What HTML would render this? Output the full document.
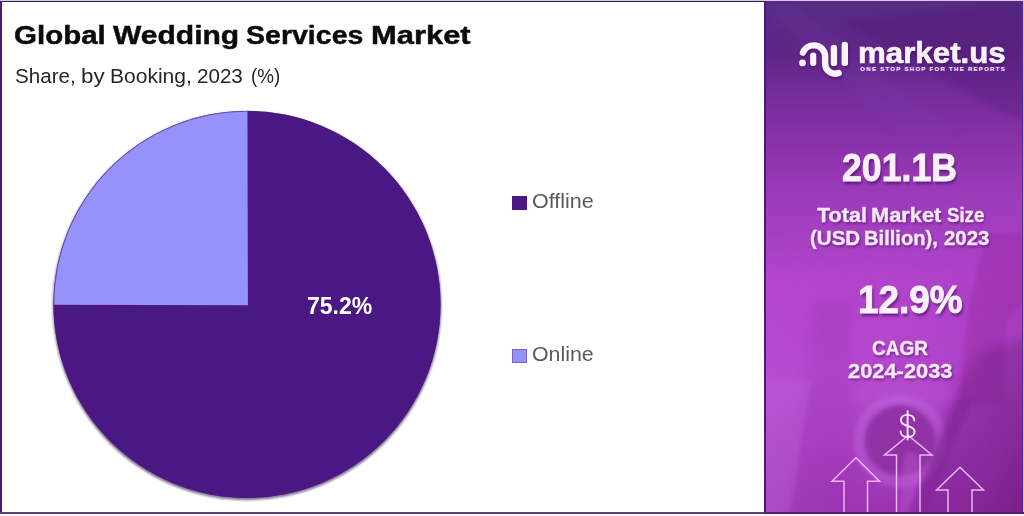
<!DOCTYPE html>
<html>
<head>
<meta charset="utf-8">
<style>
html,body{margin:0;padding:0;}
body{width:1024px;height:516px;position:relative;overflow:hidden;background:#fdf4ff;font-family:"Liberation Sans",sans-serif;}
.abs{position:absolute;}
.t{position:absolute;white-space:nowrap;line-height:1;transform-origin:0 0;}
#left{left:0;top:0;width:764px;height:514px;background:#fff;}
#panel{left:764px;top:0;width:260px;height:514px;overflow:hidden;}
.pt{color:#f8e8fa;-webkit-text-stroke:.35px #f8e8fa;text-shadow:1px 1.5px 2.5px rgba(70,10,100,.6);}
.big{color:#fbf0fc;-webkit-text-stroke:.9px #fbf0fc;text-shadow:1.5px 2.5px 3px rgba(70,10,100,.65);}
.lg{color:#fbf2fd;-webkit-text-stroke:.6px #fbf2fd;text-shadow:1px 1.5px 2px rgba(50,5,80,.5);}
.ttl{-webkit-text-stroke:.45px #0b0b0b;}
</style>
</head>
<body>
<div id="left" class="abs"></div>

<!-- pie -->
<svg class="abs" style="left:0;top:0" width="764" height="516" viewBox="0 0 764 516">
  <defs>
    <filter id="sh" x="-5%" y="-5%" width="110%" height="110%"><feGaussianBlur stdDeviation="1.3"/></filter>
    <clipPath id="pc"><circle cx="247" cy="304.4" r="193.5"/></clipPath>
  </defs>
  <circle cx="247" cy="306" r="194.3" fill="#57426c" opacity=".72" filter="url(#sh)"/>
  <circle cx="247" cy="304.4" r="193.5" fill="#4b1782"/>
  <path d="M247.9 305.2 L247.4 100 L40 100 L40 304.8 Z" fill="#9692fb" clip-path="url(#pc)"/>
  <circle cx="247" cy="304.4" r="193.2" fill="none" stroke="#4b1782" stroke-width=".8" opacity=".7"/>
</svg>

<div class="abs" style="left:512.4px;top:195.5px;width:14.5px;height:14px;background:#4b1782;"></div>
<div class="abs" style="left:512.4px;top:348.5px;width:13px;height:12.4px;background:#9692fb;border:.8px solid #7a60c8;"></div>

<!-- right panel -->
<div id="panel" class="abs">
  <div class="abs" style="left:0;top:0;width:260px;height:514px;background:linear-gradient(180deg,#572b84 0px,#5e2587 55px,#722c98 90px,#8430a4 130px,#9a3ab8 190px,#b144ca 275px,#b548ce 375px,#a83ec0 450px,#9a32b0 514px);"></div>
  <svg class="abs" style="left:0;top:0" width="260" height="514" viewBox="764 0 260 514">
  <defs>
    <filter id="b2"><feGaussianBlur stdDeviation="2"/></filter>
    <filter id="b4"><feGaussianBlur stdDeviation="4"/></filter>
    <filter id="b8"><feGaussianBlur stdDeviation="8"/></filter>
    <linearGradient id="hg" x1="0" x2="1" y1="0" y2="0">
      <stop offset="0" stop-color="#c468e0" stop-opacity=".30"/>
      <stop offset=".45" stop-color="#b044ca" stop-opacity="0"/>
      <stop offset="1" stop-color="#5e1474" stop-opacity=".48"/>
    </linearGradient>
    <linearGradient id="vm" x1="0" x2="0" y1="0" y2="1">
      <stop offset="0" stop-color="#fff" stop-opacity="0"/>
      <stop offset=".45" stop-color="#fff" stop-opacity=".5"/>
      <stop offset="1" stop-color="#fff" stop-opacity="1"/>
    </linearGradient>
    <mask id="mk"><rect x="764" y="230" width="260" height="284" fill="url(#vm)"/></mask>
  </defs>
  <!-- top photo shapes -->
  <polygon points="846,22 1024,0 1024,120 1000,112" fill="#4e1872" opacity=".28" filter="url(#b2)"/>
  <polygon points="764,8 800,8 960,135 900,135" fill="#7a40b0" opacity=".16" filter="url(#b4)"/>
  <!-- horizontal variation bottom -->
  <rect x="764" y="230" width="260" height="284" fill="url(#hg)" mask="url(#mk)"/>
  <polygon points="986,235 1024,232 1024,300 1006,322 1003,404 958,404 970,300" fill="#8a1c90" opacity=".26" filter="url(#b2)"/>
  <polygon points="812,300 852,300 848,514 794,514" fill="#8a2aa0" opacity=".14" filter="url(#b4)"/>
  <!-- saucer / cup -->
  <ellipse cx="903" cy="396" rx="52" ry="16" fill="#c872e0" opacity=".14" filter="url(#b4)"/>
  <circle cx="900" cy="441" r="46.5" fill="#cc78e4" opacity=".30" filter="url(#b2)"/>
  <circle cx="900" cy="440.5" r="35.5" fill="#8a2a9e" opacity=".8" filter="url(#b2)"/>
  <polygon points="764,380 812,380 800,450 790,514 764,514" fill="#c670e2" opacity=".22" filter="url(#b2)"/>
  <path d="M906 452 Q918 450 920 462 L918 514 H900 L902 470 Z" fill="#c460d4" opacity=".35" filter="url(#b2)"/>
  <!-- hand/pen dark diagonal -->
  <polygon points="958,400 972,400 924,514 906,514" fill="#7a2090" opacity=".40" filter="url(#b2)"/>
  <polygon points="978,352 1030,338 1030,520 914,520 950,405" fill="#6a1478" opacity=".30" filter="url(#b4)"/>
  <!-- arrows -->
  <g fill="none" stroke="#f1bcf8" stroke-width="1.5" stroke-linejoin="miter" opacity=".95">
    <path d="M844 514 V481.2 H832 L855.9 457.8 L879.5 481.2 H867.5 V514"/>
    <path d="M896.5 514 V455 H884.5 L908.2 435.5 L932 455 H920 V514"/>
    <path d="M948 514 V490 H936.6 L960 467.2 L983.5 490 H972 V514"/>
  </g>
</svg>

</div>
<svg class="abs" style="left:764px;top:0" width="260" height="514" viewBox="764 0 260 514">
  <defs><filter id="ls" x="-20%" y="-20%" width="140%" height="150%"><feGaussianBlur stdDeviation="1.6"/></filter></defs>
  <g fill="none" stroke="#3c0a5c" stroke-linecap="round" opacity=".55" filter="url(#ls)" transform="translate(.8 2)">
    <path d="M802.9 52.6 C804.6 48.2 809 45.35 814 45.35 A11.15 11.15 0 0 1 825.15 56.5 V63.7 A10 10 0 0 0 838.6 73.1" stroke-width="6.4"/>
    <path d="M813.2 55.7 V63" stroke-width="6.2"/>
    <path d="M833.9 47.9 V62.9" stroke-width="6.4"/>
    <path d="M844.8 44.9 V62.9" stroke-width="6.4"/>
    <circle cx="802.5" cy="62.9" r="3.4" fill="#3c0a5c" stroke="none"/>
  </g>
  <g fill="none" stroke="#fcf3fd" stroke-linecap="round">
    <path d="M802.9 52.6 C804.6 48.2 809 45.35 814 45.35 A11.15 11.15 0 0 1 825.15 56.5 V63.7 A10 10 0 0 0 838.6 73.1" stroke-width="6.4"/>
    <path d="M813.2 55.7 V63" stroke-width="6.2"/>
    <path d="M833.9 47.9 V62.9" stroke-width="6.4"/>
    <path d="M844.8 44.9 V62.9" stroke-width="6.4"/>
    <circle cx="802.5" cy="62.9" r="3.4" fill="#fcf3fd" stroke="none"/>
  </g>
  <!-- dollar -->
  <g fill="none" stroke="#fbeafd" stroke-width="1.9" stroke-linecap="round">
    <path d="M914.3 420.6 C914.3 416.9 911.3 414.9 907.6 414.9 C903.8 414.9 900.9 417 900.9 420.3 C900.9 424 904 425 907.6 426 C911.5 427 914.6 428.4 914.6 431.8 C914.6 435.2 911.5 437 907.6 437 C903.6 437 900.6 435 900.6 431.4"/>
    <path d="M907.6 411.3 V439.6"/>
  </g>
</svg>
<div class="t" style="left:860.3px;top:65.7px;font-size:6px;font-weight:bold;color:#f3e2f7;-webkit-text-stroke:.15px #f3e2f7;letter-spacing:1.3px;" id="tag">ONE STOP SHOP FOR THE REPORTS</div>

<div class="t ttl" style="left:13.52px;top:22.41px;font-size:26.5px;font-weight:bold;color:#0b0b0b;transform:scaleX(1.1132);">Global</div>
<div class="t ttl" style="left:113.40px;top:22.41px;font-size:26.5px;font-weight:bold;color:#0b0b0b;transform:scaleX(1.1325);">Wedding</div>
<div class="t ttl" style="left:246.34px;top:22.41px;font-size:26.5px;font-weight:bold;color:#0b0b0b;transform:scaleX(1.0766);">Services</div>
<div class="t ttl" style="left:371.29px;top:22.41px;font-size:26.5px;font-weight:bold;color:#0b0b0b;transform:scaleX(1.1663);">Market</div>
<div class="t" style="left:15.37px;top:67.09px;font-size:19.3px;color:#262626;transform:scaleX(1.0695);">Share,</div>
<div class="t" style="left:81.04px;top:67.09px;font-size:19.3px;color:#262626;transform:scaleX(1.1625);">by</div>
<div class="t" style="left:109.62px;top:67.09px;font-size:19.3px;color:#262626;transform:scaleX(1.0906);">Booking,</div>
<div class="t" style="left:196.77px;top:67.09px;font-size:19.3px;color:#262626;transform:scaleX(1.0679);">2023</div>
<div class="t" style="left:250.87px;top:67.09px;font-size:19.3px;color:#262626;transform:scaleX(0.9749);">(%)</div>
<div class="t" style="left:306.76px;top:295.20px;font-size:23.2px;font-weight:bold;color:#fff;transform:scaleX(0.9930);">75.2%</div>
<div class="t" style="left:532.13px;top:192.39px;font-size:19.3px;color:#5a5a5a;transform:scaleX(1.1125);">Offline</div>
<div class="t" style="left:532.14px;top:345.39px;font-size:19.3px;color:#5a5a5a;transform:scaleX(1.1066);">Online</div>
<div class="t pt big" style="left:841.75px;top:147.72px;font-size:39.5px;font-weight:bold;transform:scaleX(0.9024);">201.1B</div>
<div class="t pt" style="left:816.98px;top:205.99px;font-size:19.3px;font-weight:bold;transform:scaleX(1.1174);">Total</div>
<div class="t pt" style="left:870.88px;top:205.99px;font-size:19.3px;font-weight:bold;transform:scaleX(1.1318);">Market</div>
<div class="t pt" style="left:946.94px;top:205.99px;font-size:19.3px;font-weight:bold;transform:scaleX(0.9666);">Size</div>
<div class="t pt" style="left:809.67px;top:229.09px;font-size:19.3px;font-weight:bold;transform:scaleX(1.0649);">(USD</div>
<div class="t pt" style="left:864.09px;top:229.09px;font-size:19.3px;font-weight:bold;transform:scaleX(1.0451);">Billion),</div>
<div class="t pt" style="left:943.79px;top:229.09px;font-size:19.3px;font-weight:bold;transform:scaleX(1.0579);">2023</div>
<div class="t pt big" style="left:857.80px;top:280.42px;font-size:39.5px;font-weight:bold;transform:scaleX(0.9333);">12.9%</div>
<div class="t pt" style="left:872.24px;top:338.59px;font-size:19.3px;font-weight:bold;transform:scaleX(0.9859);">CAGR</div>
<div class="t pt" style="left:848.33px;top:362.39px;font-size:19.3px;font-weight:bold;transform:scaleX(1.1331);">2024-2033</div>
<div class="t lg" style="left:858.17px;top:37.57px;font-size:29.5px;font-weight:bold;transform:scaleX(1.0602);">market.us</div>

<!-- borders -->
<div class="abs" style="left:0;top:0;width:1024px;height:1px;background:#d9c7ef;"></div>
<div class="abs" style="left:0;top:1px;width:764px;height:1px;background:#33204f;"></div>
<div class="abs" style="left:0;top:1px;width:2px;height:513px;background:#3f1d78;"></div>
<div class="abs" style="left:764px;top:1px;width:2px;height:513px;background:#4a1a7a;"></div>
<div class="abs" style="left:1022px;top:1px;width:1px;height:513px;background:#5a2a8a;"></div>
<div class="abs" style="left:1023px;top:1px;width:1px;height:513px;background:#d9b7ef;"></div>
<div class="abs" style="left:0;top:512px;width:1024px;height:1.6px;background:#5a4570;"></div>
<div class="abs" style="left:764px;top:512px;width:260px;height:1.6px;background:#5a1a78;"></div>
<div class="abs" style="left:0;top:514px;width:1024px;height:2px;background:#fdf3ff;"></div>
</body>
</html>
